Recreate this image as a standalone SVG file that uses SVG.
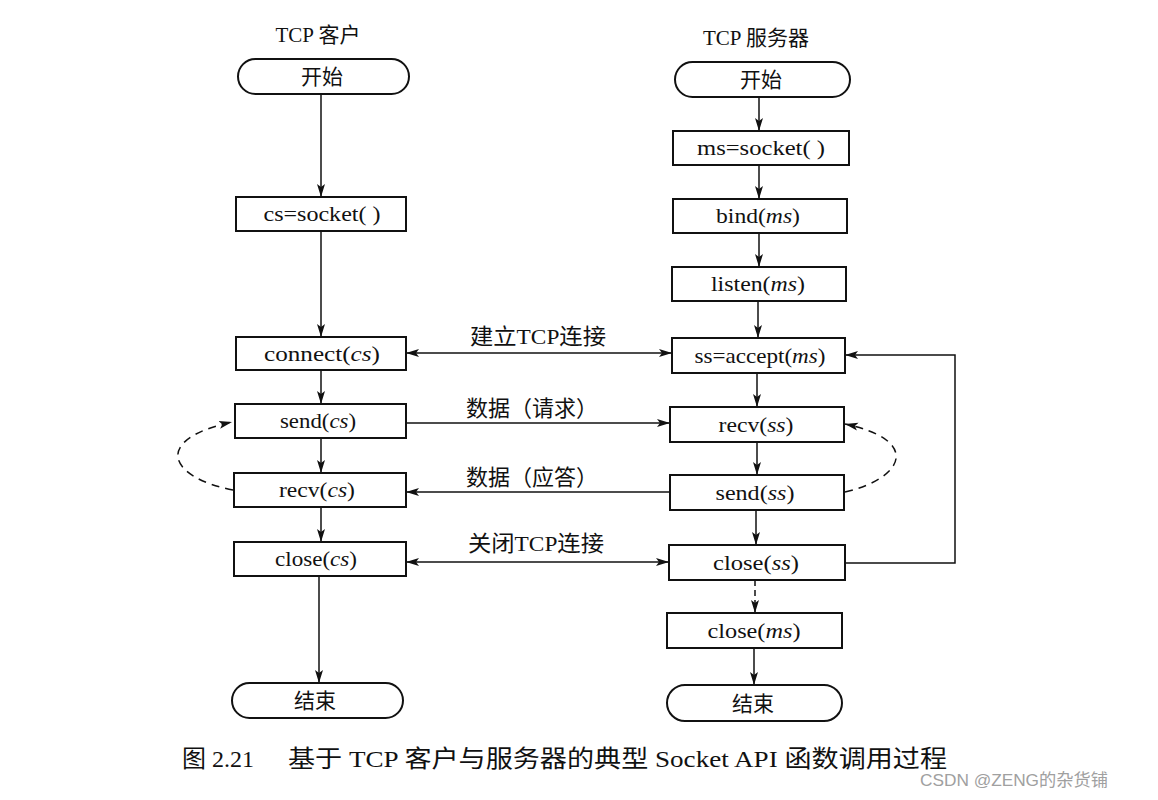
<svg xmlns="http://www.w3.org/2000/svg" width="1158" height="800" viewBox="0 0 1158 800">
<style>
  .box { fill: #fff; stroke: #111; stroke-width: 2; }
  .t { font-family: "Liberation Serif", "Noto Sans CJK SC", serif; font-size: 21px; fill: #111; text-anchor: middle; }
  .cn { font-family: "Liberation Serif", "Noto Sans CJK SC", serif; font-size: 21px; fill: #111; text-anchor: middle; }
  .lb { font-family: "Liberation Serif", "Noto Sans CJK SC", serif; font-size: 22px; fill: #111; text-anchor: middle; }
  .i { font-style: italic; }
  .ln { fill: none; stroke: #111; stroke-width: 1.5; }
  .dash { fill: none; stroke: #111; stroke-width: 1.5; stroke-dasharray: 8 6; }
  .cap { font-family: "Liberation Serif", "Noto Sans CJK SC", serif; font-size: 24px; fill: #111; }
  .wm { font-family: "Liberation Sans", "Noto Sans CJK SC", sans-serif; font-size: 17px; fill: #a0a0a0; }
</style>
<defs>
  <marker id="ah" markerUnits="userSpaceOnUse" markerWidth="14" markerHeight="10" refX="13" refY="5" orient="auto-start-reverse">
    <path d="M0,1 L13,5 L0,9 L3,5 Z" fill="#111"/>
  </marker>
</defs>

<!-- titles -->
<text class="cn" x="318" y="42" font-size="22">TCP 客户</text>
<text class="cn" x="756" y="45" font-size="22">TCP 服务器</text>

<!-- connectors -->
<g id="connectors">
  <!-- left column -->
  <line class="ln" x1="321" y1="95" x2="321" y2="197" marker-end="url(#ah)"/>
  <line class="ln" x1="321" y1="231" x2="321" y2="337" marker-end="url(#ah)"/>
  <line class="ln" x1="321" y1="370" x2="321" y2="404" marker-end="url(#ah)"/>
  <line class="ln" x1="321" y1="438" x2="321" y2="473" marker-end="url(#ah)"/>
  <line class="ln" x1="321" y1="507" x2="321" y2="542" marker-end="url(#ah)"/>
  <line class="ln" x1="319" y1="576" x2="319" y2="683" marker-end="url(#ah)"/>
  <!-- right column -->
  <line class="ln" x1="759" y1="97" x2="759" y2="131" marker-end="url(#ah)"/>
  <line class="ln" x1="759" y1="165" x2="759" y2="199" marker-end="url(#ah)"/>
  <line class="ln" x1="759" y1="233" x2="759" y2="267" marker-end="url(#ah)"/>
  <line class="ln" x1="758" y1="301" x2="758" y2="338" marker-end="url(#ah)"/>
  <line class="ln" x1="757" y1="373" x2="757" y2="407" marker-end="url(#ah)"/>
  <line class="ln" x1="757" y1="442" x2="757" y2="475" marker-end="url(#ah)"/>
  <line class="ln" x1="756" y1="510" x2="756" y2="545" marker-end="url(#ah)"/>
  <line class="ln" x1="755" y1="580" x2="755" y2="613" stroke-dasharray="6 4" marker-end="url(#ah)"/>
  <line class="ln" x1="754" y1="648" x2="754" y2="685" marker-end="url(#ah)"/>
  <!-- horizontal -->
  <line class="ln" x1="406" y1="353" x2="672" y2="353" marker-start="url(#ah)" marker-end="url(#ah)"/>
  <line class="ln" x1="406" y1="423" x2="670" y2="423" marker-end="url(#ah)"/>
  <line class="ln" x1="670" y1="492" x2="406" y2="492" marker-end="url(#ah)"/>
  <line class="ln" x1="406" y1="562" x2="669" y2="562" marker-start="url(#ah)" marker-end="url(#ah)"/>
  <!-- loop back to accept -->
  <polyline class="ln" points="845,563 955,563 955,355 845,355" marker-end="url(#ah)"/>
  <!-- dashed loops -->
  <path class="dash" d="M233,490 C170,478 150,440 232,422" marker-end="url(#ah)"/>
  <path class="dash" d="M845,492 C905,478 921,440 845,424" marker-end="url(#ah)"/>
  <!-- labels -->
  <text class="lb" x="538" y="344" textLength="136" lengthAdjust="spacingAndGlyphs">建立TCP连接</text>
  <text class="lb" x="532" y="416">数据（请求）</text>
  <text class="lb" x="532" y="485">数据（应答）</text>
  <text class="lb" x="536" y="551" textLength="136" lengthAdjust="spacingAndGlyphs">关闭TCP连接</text>
</g>

<!-- left nodes -->
<g id="c-start"><rect class="box" x="238" y="59" width="171" height="35" rx="17.5"/><text class="cn" x="322" y="84">开始</text></g>
<g id="c-socket"><rect class="box" x="236" y="197" width="170" height="34"/><text class="t" x="322" y="221" textLength="117" lengthAdjust="spacingAndGlyphs">cs=socket( )</text></g>
<g id="c-connect"><rect class="box" x="236" y="337" width="170" height="33"/><text class="t" x="322" y="361" textLength="116" lengthAdjust="spacingAndGlyphs">connect(<tspan class="i">cs</tspan>)</text></g>
<g id="c-send"><rect class="box" x="235" y="404" width="171" height="34"/><text class="t" x="318" y="428" textLength="76" lengthAdjust="spacingAndGlyphs">send(<tspan class="i">cs</tspan>)</text></g>
<g id="c-recv"><rect class="box" x="234" y="473" width="172" height="34"/><text class="t" x="317" y="497" textLength="76" lengthAdjust="spacingAndGlyphs">recv(<tspan class="i">cs</tspan>)</text></g>
<g id="c-close"><rect class="box" x="234" y="542" width="172" height="34"/><text class="t" x="316" y="566" textLength="82" lengthAdjust="spacingAndGlyphs">close(<tspan class="i">cs</tspan>)</text></g>
<g id="c-end"><rect class="box" x="232" y="683" width="171" height="35" rx="17.5"/><text class="cn" x="315" y="708">结束</text></g>

<!-- right nodes -->
<g id="s-start"><rect class="box" x="675" y="62" width="175" height="35" rx="17.5"/><text class="cn" x="761" y="87">开始</text></g>
<g id="s-socket"><rect class="box" x="673" y="131" width="176" height="34"/><text class="t" x="761" y="155" textLength="128" lengthAdjust="spacingAndGlyphs">ms=socket( )</text></g>
<g id="s-bind"><rect class="box" x="673" y="199" width="174" height="34"/><text class="t" x="758" y="223" textLength="84" lengthAdjust="spacingAndGlyphs">bind(<tspan class="i">ms</tspan>)</text></g>
<g id="s-listen"><rect class="box" x="672" y="267" width="174" height="34"/><text class="t" x="758" y="291" textLength="94" lengthAdjust="spacingAndGlyphs">listen(<tspan class="i">ms</tspan>)</text></g>
<g id="s-accept"><rect class="box" x="672" y="338" width="173" height="35"/><text class="t" x="760" y="363" textLength="131" lengthAdjust="spacingAndGlyphs">ss=accept(<tspan class="i">ms</tspan>)</text></g>
<g id="s-recv"><rect class="box" x="670" y="407" width="174" height="35"/><text class="t" x="756" y="432" textLength="75" lengthAdjust="spacingAndGlyphs">recv(<tspan class="i">ss</tspan>)</text></g>
<g id="s-send"><rect class="box" x="670" y="475" width="174" height="35"/><text class="t" x="755" y="500" textLength="79" lengthAdjust="spacingAndGlyphs">send(<tspan class="i">ss</tspan>)</text></g>
<g id="s-close"><rect class="box" x="669" y="545" width="176" height="35"/><text class="t" x="756" y="570" textLength="86" lengthAdjust="spacingAndGlyphs">close(<tspan class="i">ss</tspan>)</text></g>
<g id="s-closems"><rect class="box" x="667" y="613" width="175" height="35"/><text class="t" x="754" y="638" textLength="93" lengthAdjust="spacingAndGlyphs">close(<tspan class="i">ms</tspan>)</text></g>
<g id="s-end"><rect class="box" x="667" y="685" width="175" height="36" rx="18"/><text class="cn" x="753" y="711">结束</text></g>

<!-- caption -->
<text class="cap" x="182" y="767">图 2.21</text>
<text class="cap" x="288" y="767" textLength="659" lengthAdjust="spacingAndGlyphs">基于 TCP 客户与服务器的典型 Socket API 函数调用过程</text>
<text class="wm" x="920" y="786" textLength="188" lengthAdjust="spacingAndGlyphs">CSDN @ZENG的杂货铺</text>
</svg>
